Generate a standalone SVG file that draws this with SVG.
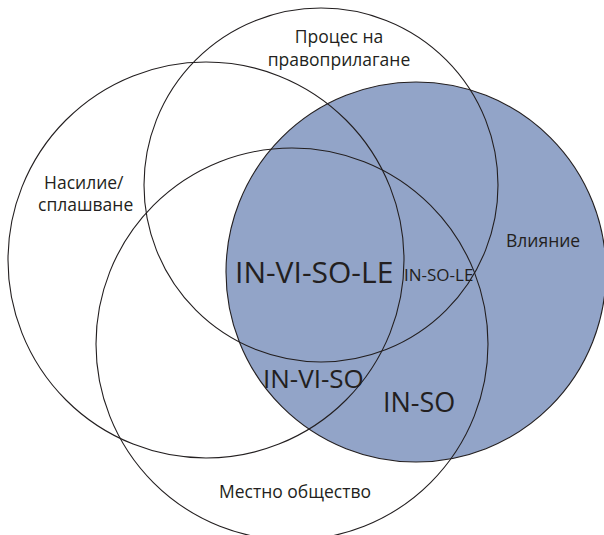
<svg xmlns="http://www.w3.org/2000/svg" width="604" height="535" viewBox="0 0 604 535">
<style>
.c{fill:none;stroke:#231f20;stroke-width:1.1}
.t{font-family:"Open Sans","Noto Sans",sans-serif;fill:#231f20}
.s{font-size:17.5px}
</style>
<rect width="604" height="535" fill="#ffffff"/>
<g id="fill-influence"><circle cx="416" cy="272" r="190" fill="#92a4c8"/></g>
<g id="connectors"></g>
<g id="node-violence"><circle class="c" cx="206" cy="260" r="198"/><text class="t s" x="44" y="189">Насилие/</text><text class="t s" x="38" y="211">сплашване</text></g>
<g id="node-enforcement"><circle class="c" cx="321" cy="185" r="177"/><text class="t s" x="339" y="43" text-anchor="middle">Процес на</text><text class="t s" x="339" y="66" text-anchor="middle">правоприлагане</text></g>
<g id="node-influence"><circle class="c" cx="416" cy="272" r="190"/><text class="t s" x="506" y="247">Влияние</text></g>
<g id="node-community"><circle class="c" cx="292" cy="344" r="196"/><text class="t s" x="295" y="498" text-anchor="middle">Местно общество</text></g>
<g id="labels">
<text class="t" x="235" y="283" font-size="30">IN-VI-SO-LE</text>
<text class="t" x="404" y="281" font-size="17">IN-SO-LE</text>
<text class="t" x="263" y="388" font-size="26">IN-VI-SO</text>
<text class="t" x="383" y="412" font-size="27">IN-SO</text>
</g>
</svg>
